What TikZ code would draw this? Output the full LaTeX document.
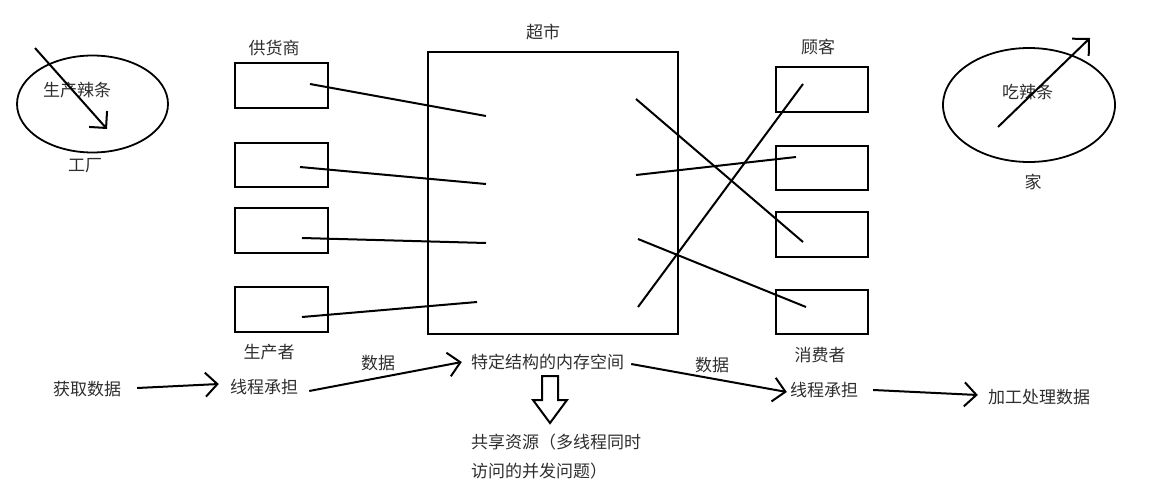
\documentclass[tikz,border=0pt]{standalone}
\usepackage{fontspec}
\setmainfont{Noto Sans CJK SC}
\usetikzlibrary{arrows.meta,shapes.geometric}
\begin{document}
\begin{tikzpicture}[x=1pt,y=-1pt,
  lbl/.style={font=\fontsize{17}{20}\selectfont, text=black!82, inner sep=0pt},
  box/.style={draw, line width=1.8pt, inner sep=0pt},
  ln/.style={line width=2pt},
  arr/.style={ln, -{Straight Barb[length=12pt,width=24pt,line width=2pt]}},
]
\useasboundingbox (0,0) rectangle (1151,498);
% left ellipse
\node[ellipse, draw, line width=1.8pt, minimum width=151pt, minimum height=97pt] (fac) at (92.5,104) {};
\node[lbl] (faclbl) at (77,90) {生产辣条};
\node[lbl] (factory) at (85,166) {工厂};
\coordinate (fa1) at (35,48);
\coordinate (fa2) at (107,129);
\draw[arr] (fa1) -- (fa2);
% right ellipse
\node[ellipse, draw, line width=1.8pt, minimum width=172pt, minimum height=114pt] (home) at (1029,105) {};
\node[lbl] (homelbl) at (1027.5,92) {吃辣条};
\node[lbl] (homename) at (1033,182) {家};
\coordinate (ha1) at (998,127);
\coordinate (ha2) at (1090,38);
\draw[arr] (ha1) -- (ha2);
% supermarket
\node[box, minimum width=250pt, minimum height=282pt] (mkt) at (553,193) {};
\node[lbl] (mktlbl) at (543,32) {超市};
% suppliers
\node[lbl] (suplbl) at (274,48) {供货商};
\node[box, minimum width=93pt, minimum height=45pt] (s1) at (281.5,85.5) {};
\node[box, minimum width=93pt, minimum height=44pt] (s2) at (281.5,165) {};
\node[box, minimum width=93pt, minimum height=45pt] (s3) at (281.5,230.5) {};
\node[box, minimum width=93pt, minimum height=45pt] (s4) at (281.5,309.5) {};
\node[lbl] (prodlbl) at (269,352) {生产者};
% customers
\node[lbl] (cuslbl) at (818,47) {顾客};
\node[box, minimum width=92pt, minimum height=45pt] (c1) at (822,89.5) {};
\node[box, minimum width=92pt, minimum height=44pt] (c2) at (822,168) {};
\node[box, minimum width=92pt, minimum height=45pt] (c3) at (822,234.5) {};
\node[box, minimum width=92pt, minimum height=44pt] (c4) at (822,312) {};
\node[lbl] (conslbl) at (820,355) {消费者};
% supplier lines
\coordinate (sp1) at (310,84);  \coordinate (mi1) at (486,116);
\coordinate (sp2) at (300,167); \coordinate (mi2) at (486,184);
\coordinate (sp3) at (302,238); \coordinate (mi3) at (486,243);
\coordinate (sp4) at (302,317); \coordinate (mi4) at (477,302);
\draw[ln] (sp1) -- (mi1);
\draw[ln] (sp2) -- (mi2);
\draw[ln] (sp3) -- (mi3);
\draw[ln] (sp4) -- (mi4);
% customer lines
\coordinate (mo1) at (636,99);  \coordinate (cp3) at (803,242);
\coordinate (mo2) at (636,175); \coordinate (cp2) at (796,157);
\coordinate (mo3) at (638,239); \coordinate (cp4) at (806,307);
\coordinate (mo4) at (638,307); \coordinate (cp1) at (803,84);
\draw[ln] (mo1) -- (cp3);
\draw[ln] (mo2) -- (cp2);
\draw[ln] (mo3) -- (cp4);
\draw[ln] (mo4) -- (cp1);
% bottom flow
\node[lbl] (get) at (87,389) {获取数据};
\node[lbl] (pthr) at (264,387) {线程承担};
\node[lbl] (mem) at (547.5,362) {特定结构的内存空间};
\node[lbl] (cthr) at (824,390) {线程承担};
\node[lbl] (proc) at (1039,397) {加工处理数据};
\node[lbl] (d1) at (378,363) {数据};
\node[lbl] (d2) at (712,365) {数据};
\node[lbl, anchor=west] (share1) at (471,442) {共享资源（多线程同时};
\node[lbl, anchor=west] (share2) at (471,471) {访问的并发问题）};
\draw[arr] ([xshift=16pt,yshift=1pt]get.east) -- ([xshift=-11pt,yshift=3pt]pthr.west);
\draw[arr] ([xshift=11pt,yshift=-4pt]pthr.east) -- ([xshift=-9pt]mem.west);
\draw[arr] ([xshift=7pt,yshift=-2pt]mem.east) -- ([xshift=-3pt,yshift=-2pt]cthr.west);
\draw[arr] ([xshift=15pt]cthr.east) -- ([xshift=-10pt,yshift=2pt]proc.west);
% hollow arrow
\draw[line width=2pt, line join=miter] (542,376) -- (558,376) -- (558,400) -- (567,400) -- (550,423) -- (533,400) -- (542,400) -- cycle;
\end{tikzpicture}
\end{document}
